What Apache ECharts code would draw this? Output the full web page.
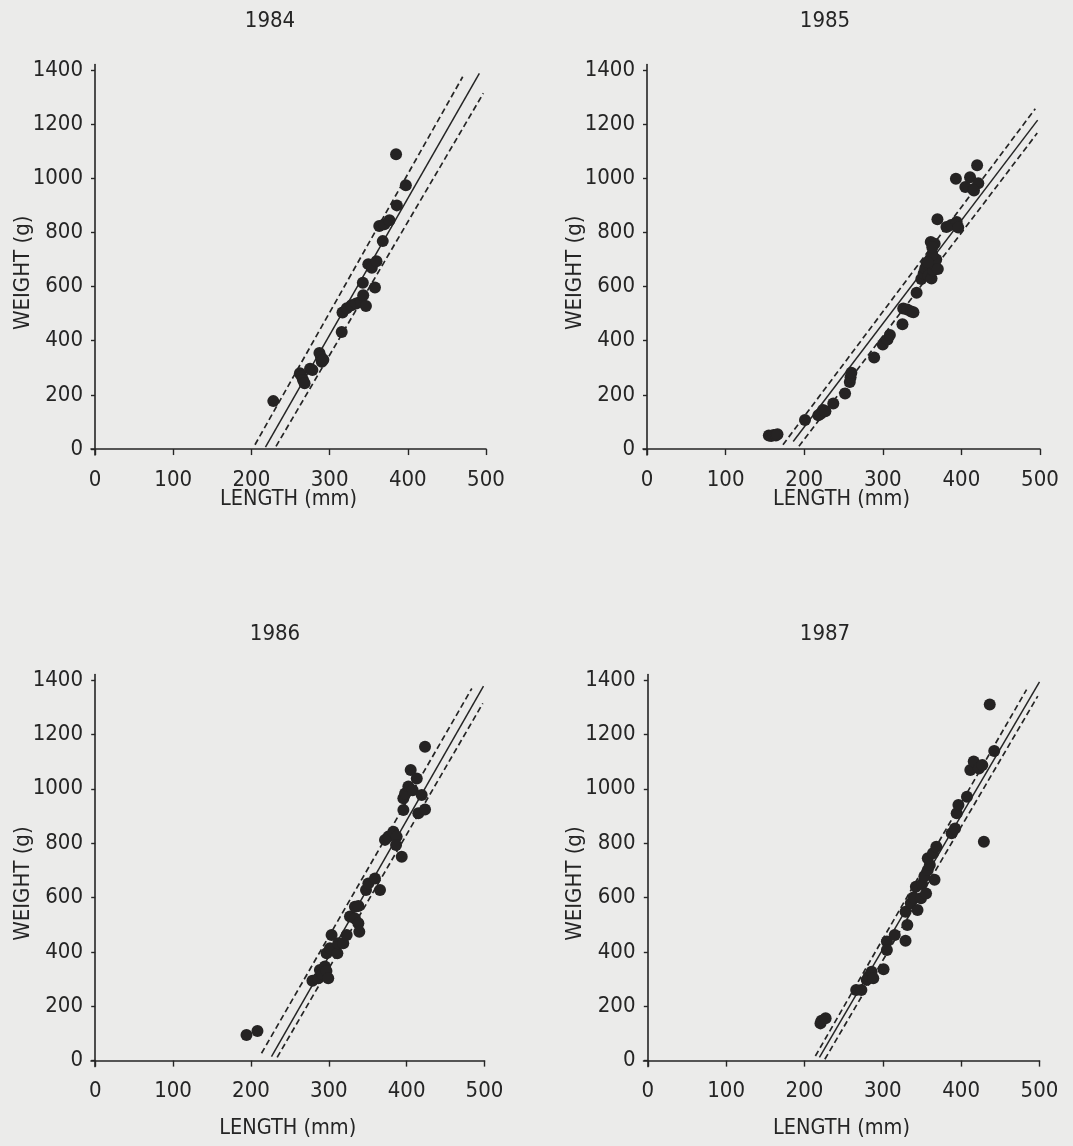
<!DOCTYPE html>
<html>
<head>
<meta charset="utf-8">
<script src="https://cdn.jsdelivr.net/npm/echarts@6/dist/echarts.min.js"></script>
<style>
html,body{margin:0;padding:0;background:#ebebea;}
#chart{width:1073px;height:1146px;}
</style>
</head>
<body>
<div id="chart"></div>
<script>
// ---- data ----
const years = ['1984', '1985', '1986', '1987'];
const xTicks = [0, 100, 200, 300, 400, 500];
const yTicks = [0, 200, 400, 600, 800, 1000, 1200, 1400];
const xName = 'LENGTH (mm)';
const yName = 'WEIGHT (g)';

// [length (mm), weight (g)]
const fish1984 = [
  [228,177],[262,280],[264,270],[266,255],[268,243],[275,297],[278,292],
  [287,355],[289,340],[290,322],[292,330],[315.5,432],[316.5,504],[322,520],
  [328,531],[334,538],[340,545],[343,568],[346.5,528],[342.5,614],[358,597],
  [349.5,683],[354,670],[360,694],[368,768],[363.5,824],[370,830],[376.5,845],
  [386,900],[385,1089],[397.5,974]
];
const fish1985 = [
  [155,50],[158,48],[161,52],[164,50],[166,55],[201,107],[218,125],[221,130],
  [224,144],[227,140],[237,168],[252,205],[258,248],[259,265],[260,282],[289,338],
  [300,386],[306,405],[309,421],[325,461],[326,519],[331,515],[336,508],[339,505],
  [343,577],[349,628],[352,648],[354,668],[356,685],[358,640],[360,700],[362,630],
  [364,660],[366,680],[368,700],[370,665],[363,718],[357,690],[361,765],[366,758],
  [363,745],[369.5,849],[381,820],[387,828],[394,839],[396,818],[393,998],[405,968],
  [411,1004],[415,960],[421.5,982],[420,1048],[416,955]
];
const fish1986 = [
  [194.3,94],[208.4,109],[279,294],[286.5,303],[288.6,333],[292,318],[295,346],
  [297,330],[299.3,303],[297.2,395],[301.5,413],[303.6,462],[311,395],[312.2,432],
  [318.6,432],[323,462],[327.2,530],[333.6,566],[338,569],[333.6,523],[338,505],
  [339.2,474],[347.8,628],[350.8,652],[359.3,670],[365.8,628],[372.2,812],[376.5,824],
  [382.9,842],[387.2,824],[386.4,793],[393.7,750],[395.8,922],[395.8,965],[398,983],
  [402.2,1008],[405.2,1069],[413,1038],[407.8,995],[415,910],[419.3,977],[423.6,924],
  [423.6,1155]
];
const fish1987 = [
  [220.4,137],[221.7,147],[227,156],[266,260],[272.6,260],[279.5,297],[282,310],
  [285.7,327],[287.8,303],[300.9,336],[305.2,438],[305.2,407],[315.2,462],[329,441],
  [331.3,499],[329,548],[335.7,579],[339,600],[342.2,640],[344.3,554],[348.7,597],
  [350,650],[355.2,615],[353,677],[357.4,701],[360,720],[357.4,744],[364,763],
  [366,665],[368.3,787],[387.8,836],[392.2,854],[394.3,910],[396.5,940],[407.4,971],
  [411.7,1069],[416,1100],[422.6,1075],[427,1087],[429,805],[436.5,1310],[442.2,1139]
];

// regression line and confidence limits: [[x0,y0],[x1,y1]]
const fit1984 = [[218,7],[491.5,1388]];
const upper1984 = [[204.6,16],[470.2,1375]];
const lower1984 = [[231.5,10],[496.6,1314]];
const fit1985 = [[186,28],[497,1215]];
const upper1985 = [[173,16],[494,1257]];
const lower1985 = [[193.3,10],[496.5,1167]];
const fit1986 = [[226.4,15],[498.7,1378]];
const upper1986 = [[213.6,27],[483.7,1369]];
const lower1986 = [[233.7,12],[497.8,1314]];
const fit1987 = [[219.1,12],[500,1393]];
const upper1987 = [[213.9,17],[483.5,1365]];
const lower1987 = [[226,5],[497.8,1341]];

const fishData = [fish1984, fish1985, fish1986, fish1987];
const fits = [fit1984, fit1985, fit1986, fit1987];
const uppers = [upper1984, upper1985, upper1986, upper1987];
const lowers = [lower1984, lower1985, lower1986, lower1987];

// ---- layout ----
const FONT = '"DejaVu Sans Condensed", "Liberation Sans Narrow", sans-serif';
const INK = '#252525';
const grids = [
  {left: 91, top: 64.6, width: 395, height: 390.4, outerBoundsMode: 'none', containLabel: false},
  {left: 643, top: 64.6, width: 397, height: 390.4, outerBoundsMode: 'none', containLabel: false},
  {left: 91, top: 674.6, width: 393.5, height: 392, outerBoundsMode: 'none', containLabel: false},
  {left: 643.5, top: 674.6, width: 396, height: 392, outerBoundsMode: 'none', containLabel: false}
];
const xMins = [-5.1, -5.1, -5.4, -5.5];
const titlePos = [[265, 5], [820, 5], [270, 618], [820, 618]];
const xNameGap = [33, 33, 51, 51];

const chart = echarts.init(document.getElementById('chart'), null, {renderer: 'canvas'});

const option = {
  backgroundColor: '#ebebea',
  animation: false,
  title: years.map((y, i) => ({
    text: y, left: titlePos[i][0], top: titlePos[i][1], textAlign: 'center',
    textStyle: {fontFamily: FONT, fontSize: 22, fontWeight: 'normal', color: INK}
  })),
  grid: grids,
  xAxis: grids.map((g, i) => ({
    type: 'value', gridIndex: i, min: xMins[i], max: 500,
    name: xName, nameLocation: 'middle', nameGap: xNameGap[i], nameMoveOverlap: false,
    nameTextStyle: {fontFamily: FONT, fontSize: 21.5, color: INK},
    axisLine: {show: true, lineStyle: {color: INK, width: 1.6}},
    axisTick: {show: true, length: 6, lineStyle: {color: INK, width: 1.4}, customValues: xTicks},
    axisLabel: {fontFamily: FONT, fontSize: 22, color: INK, margin: 14, customValues: xTicks,
      formatter: v => String(v)},
    splitLine: {show: false}
  })),
  yAxis: grids.map((g, i) => ({
    type: 'value', gridIndex: i, min: -22, max: 1420,
    name: yName, nameLocation: 'middle', nameGap: 57, nameRotate: 90, nameMoveOverlap: false,
    nameTextStyle: {fontFamily: FONT, fontSize: 22, color: INK, padding: [0, 26, 0, 0]},
    axisLine: {show: true, lineStyle: {color: INK, width: 1.6}},
    axisTick: {show: true, length: 4, lineStyle: {color: INK, width: 1.4}, customValues: yTicks},
    axisLabel: {fontFamily: FONT, fontSize: 22, color: INK, margin: 8, customValues: yTicks,
      formatter: v => String(v)},
    splitLine: {show: false}
  })),
  series: []
};

for (let i = 0; i < 4; i++) {
  const lineBase = {
    type: 'line', xAxisIndex: i, yAxisIndex: i, symbol: 'none', silent: true, z: 2
  };
  option.series.push(Object.assign({}, lineBase, {
    data: fits[i], lineStyle: {color: INK, width: 1.5, type: 'solid'}
  }));
  option.series.push(Object.assign({}, lineBase, {
    data: uppers[i], lineStyle: {color: INK, width: 1.7, type: [6, 3.5]}
  }));
  option.series.push(Object.assign({}, lineBase, {
    data: lowers[i], lineStyle: {color: INK, width: 1.7, type: [6, 3.5]}
  }));
  option.series.push({
    type: 'scatter', xAxisIndex: i, yAxisIndex: i, data: fishData[i],
    symbol: 'circle', symbolSize: 12, z: 3,
    itemStyle: {color: '#252323', opacity: 1}
  });
}

chart.setOption(option);
</script>
</body>
</html>
